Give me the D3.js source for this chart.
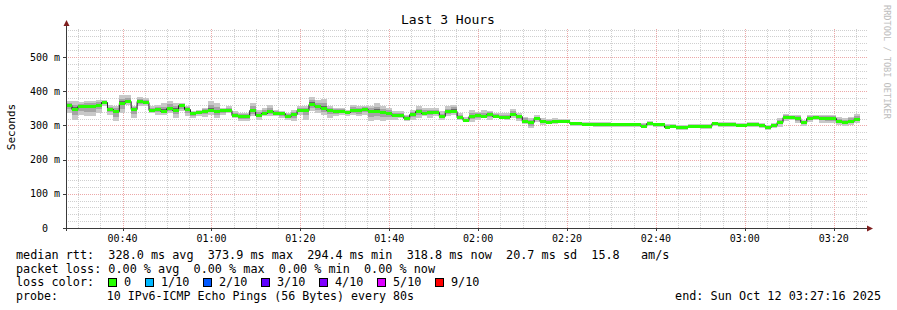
<!DOCTYPE html>
<html><head><meta charset="utf-8">
<script src="https://cdn.jsdelivr.net/npm/d3@7"></script>
<style>
body{margin:0;background:#fff;}
svg{display:block;font-family:"DejaVu Sans Mono",monospace;}
text{white-space:pre;}
</style></head><body>
<svg id="c" width="897" height="310"></svg>
<script>
const title = "Last 3 Hours";
const yAxisTitle = "Seconds";
const watermark = "RRDTOOL / TOBI OETIKER";
const endLabel = "end: Sun Oct 12 03:27:16 2025";
const endTime = 12436;      // 03:27:16 in seconds after midnight
const spanSeconds = 10800;  // 3 hours
const stepSeconds = 80;

// median rtt per 80 s step (ms)
const median = [
360,348,356,356,356,360,368,348,343,365,372,349,370,368,346,348,343,351,346,359,349,336,339,343,346,341,344,346,331,327,327,344,331,336,
341,336,336,327,333,346,346,363,356,351,344,343,343,338,344,344,348,343,343,339,336,331,331,322,333,341,336,338,338,327,341,343,325,315,
328,330,327,333,328,326,326,333,327,314,309,321,312,310,312,312,312,306,306,305,305,305,305,305,304,304,304,303,303,299,306,303,303,296,
298,295,295,297,297,298,298,306,304,304,304,300,300,305,305,300,295,302,311,326,324,322,309,322,326,323,322,322,313,310,314,319
];
// smoke extent (highest / lowest ping) per step (ms)
const smokeHi = [
372,370,368,372,372,375,375,361,356,388,388,356,382,380,356,361,365,370,365,365,356,341,346,351,370,365,351,356,341,336,336,365,346,351,
361,346,341,336,346,356,356,382,375,377,356,351,351,346,361,356,356,356,365,356,351,341,341,331,346,356,351,351,351,341,356,361,336,324,
345,340,345,343,337,335,335,347,335,326,321,330,321,318,321,319,319,311,311,311,311,309,309,309,308,308,308,308,308,306,313,308,308,304,
304,301,301,304,304,304,304,311,311,311,311,306,306,311,311,306,301,308,321,333,330,330,316,330,330,330,330,330,326,321,326,333
];
const smokeLo = [
336,317,330,327,327,336,356,331,312,336,361,322,356,356,336,331,331,336,322,341,327,322,327,324,331,322,331,336,322,312,312,327,317,327,
327,327,322,317,312,331,317,341,336,331,322,327,331,327,331,327,331,312,317,312,317,317,322,312,317,322,327,322,327,317,327,331,317,309,
311,316,321,316,321,318,316,321,314,304,291,311,301,304,304,306,306,298,298,298,298,296,296,296,294,294,294,294,294,291,298,296,296,289,
291,287,287,291,291,289,289,298,294,294,294,294,294,296,296,291,287,291,296,314,316,306,298,311,316,308,308,306,301,298,301,306
];

const yTickValues = [0, 100, 200, 300, 400, 500];
const yTickLabels = ["0  ", "100 m", "200 m", "300 m", "400 m", "500 m"];
const xTickLabels = ["00:40","01:00","01:20","01:40","02:00","02:20","02:40","03:00","03:20"];

const rttStats = ["328.0", "373.9", "294.4", "318.8", "20.7", "15.8"];
const lossStats = ["0.00", "0.00", "0.00", "0.00"];
const lossLabels = ["0", "1/10", "2/10", "3/10", "4/10", "5/10", "9/10"];
const lossColors = ["#26ff00", "#00b8ff", "#0059ff", "#5e00ff", "#7e00ff", "#dd00ff", "#ff0000"];
const probeText = "10 IPv6-ICMP Echo Pings (56 Bytes) every 80s";

const svg = d3.select("#c");
svg.append("rect").attr("width", 897).attr("height", 310).attr("fill", "#fff");

const X0 = 66, X1 = 866, Y0 = 228, Y1 = 28;
const startTime = endTime - spanSeconds;
const x = d3.scaleLinear().domain([startTime, endTime]).range([X0, X1]);
const y = d3.scaleLinear().domain([0, 584.8]).range([Y0, Y1]);

// grid
const grid = svg.append("g");
const minorY = d3.range(20, 585, 20).filter(v => v % 100 !== 0);
const majorY = yTickValues.filter(v => v > 0);
grid.selectAll(".hy").data(minorY).join("line")
  .attr("x1", X0).attr("x2", X1 + 2)
  .attr("y1", d => Math.round(y(d)) + 0.5).attr("y2", d => Math.round(y(d)) + 0.5)
  .attr("stroke", "#cfcfcf").attr("stroke-dasharray", "1,1");
const firstMinor = Math.ceil(startTime / 300) * 300;
const minorX = d3.range(firstMinor, endTime, 300).filter(t => t % 1200 !== 0);
const parseHM = s => { const [h, m] = s.split(":").map(Number); return h * 3600 + m * 60; };
const majorX = xTickLabels.map(parseHM);
grid.selectAll(".vx").data(minorX).join("line")
  .attr("x1", d => Math.round(x(d)) + 0.5).attr("x2", d => Math.round(x(d)) + 0.5)
  .attr("y1", Y0).attr("y2", Y1)
  .attr("stroke", "#cfcfcf").attr("stroke-dasharray", "1,1");
grid.selectAll(".my").data(majorY).join("line")
  .attr("x1", X0).attr("x2", X1 + 2)
  .attr("y1", d => Math.round(y(d)) + 0.5).attr("y2", d => Math.round(y(d)) + 0.5)
  .attr("stroke", "#eca8a8").attr("stroke-dasharray", "1,1");
grid.selectAll(".mx").data(majorX).join("line")
  .attr("x1", d => Math.round(x(d)) + 0.5).attr("x2", d => Math.round(x(d)) + 0.5)
  .attr("y1", Y0).attr("y2", Y1)
  .attr("stroke", "#eca8a8").attr("stroke-dasharray", "1,1");

// smoke
const steps = median.map((m, i) => ({
  t0: startTime + i * stepSeconds, t1: startTime + (i + 1) * stepSeconds,
  med: m, hi: smokeHi[i], lo: smokeLo[i]
}));
const smoke = svg.append("g");
function band(fill, loF, hiF) {
  smoke.append("g").selectAll("rect").data(steps).join("rect")
    .attr("x", d => x(d.t0)).attr("width", d => x(d.t1) - x(d.t0))
    .attr("y", d => y(hiF(d))).attr("height", d => Math.max(0, y(loF(d)) - y(hiF(d))))
    .attr("fill", fill).attr("shape-rendering", "crispEdges");
}
band("#c8c8c8", d => d.lo, d => d.hi);
band("#a4a4a4", d => d.med - (d.med - d.lo) * 0.55, d => d.med + (d.hi - d.med) * 0.55);
band("#666666", d => d.med - (d.med - d.lo) * 0.22, d => d.med + (d.hi - d.med) * 0.22);

// median line
const stepPts = steps.map(d => [d.t0, d.med]).concat([[steps[steps.length - 1].t1, steps[steps.length - 1].med]]);
svg.append("path")
  .attr("d", d3.line().x(d => x(d[0])).y(d => Math.round(y(d[1])) + 0.5).curve(d3.curveStepAfter)(stepPts))
  .attr("fill", "none").attr("stroke", "#202020").attr("stroke-width", 1);
svg.append("g").selectAll("rect").data(steps).join("rect")
  .attr("x", d => x(d.t0)).attr("width", d => x(d.t1) - x(d.t0))
  .attr("y", d => Math.round(y(d.med)) - 1).attr("height", 3)
  .attr("fill", lossColors[0]).attr("shape-rendering", "crispEdges");

// axes
const axisColor = "#3a3a3a";
const ax = svg.append("g");
ax.append("line").attr("x1", X0 + 0.5).attr("x2", X0 + 0.5).attr("y1", Y0 + 3).attr("y2", 23).attr("stroke", axisColor);
ax.append("line").attr("x1", X0 - 3).attr("x2", 868).attr("y1", Y0 + 0.5).attr("y2", Y0 + 0.5).attr("stroke", axisColor);
ax.append("path").attr("d", `M${X0 - 2.5},26 L${X0 + 3.5},26 L${X0 + 0.5},20 Z`).attr("fill", "#7f1f1f");
ax.append("path").attr("d", `M867,${Y0 - 2.5} L867,${Y0 + 3.5} L873,${Y0 + 0.5} Z`).attr("fill", "#7f1f1f");
// ticks
ax.selectAll(".yt").data(yTickValues).join("line")
  .attr("x1", X0 - 3).attr("x2", X0).attr("y1", d => Math.round(y(d)) + 0.5).attr("y2", d => Math.round(y(d)) + 0.5)
  .attr("stroke", axisColor);
ax.selectAll(".xt").data(majorX).join("line")
  .attr("x1", d => Math.round(x(d)) + 0.5).attr("x2", d => Math.round(x(d)) + 0.5).attr("y1", Y0).attr("y2", Y0 + 3)
  .attr("stroke", axisColor);

// axis labels
svg.append("g").selectAll("text").data(yTickValues).join("text")
  .attr("x", 60).attr("y", d => y(d) + 3.5).attr("text-anchor", "end")
  .attr("font-size", 10).attr("fill", "#000").text((d, i) => yTickLabels[i]);
svg.append("g").selectAll("text").data(majorX).join("text")
  .attr("x", d => x(d)).attr("y", Y0 + 14).attr("text-anchor", "middle")
  .attr("font-size", 10).attr("fill", "#000").text((d, i) => xTickLabels[i]);

// titles
svg.append("text").attr("x", 448).attr("y", 24).attr("text-anchor", "middle")
  .attr("font-size", 13).attr("fill", "#000").text(title);
svg.append("text").attr("transform", "translate(15,127) rotate(-90)").attr("text-anchor", "middle")
  .attr("font-size", 11).attr("fill", "#000").text(yAxisTitle);
svg.append("text").attr("transform", "translate(884,5) rotate(90)").attr("text-anchor", "start")
  .attr("font-size", 8.6).attr("fill", "#bdbdbd").text(watermark);

// legend
const LX = 16, FS = 11.8;
const lg = svg.append("g").attr("font-size", FS).attr("fill", "#000");
lg.append("text").attr("x", LX).attr("y", 259)
  .text(`median rtt:  ${rttStats[0]} ms avg  ${rttStats[1]} ms max  ${rttStats[2]} ms min  ${rttStats[3]} ms now  ${rttStats[4]} ms sd  ${rttStats[5]}   am/s`);
lg.append("text").attr("x", LX).attr("y", 272.5)
  .text(`packet loss: ${lossStats[0]} % avg  ${lossStats[1]} % max  ${lossStats[2]} % min  ${lossStats[3]} % now`);
lg.append("text").attr("x", LX).attr("y", 286).text("loss color:");
let bx = 108;
lossLabels.forEach((lab, i) => {
  lg.append("rect").attr("x", bx + 0.5).attr("y", 278.5).attr("width", 8).attr("height", 8)
    .attr("fill", lossColors[i]).attr("stroke", "#000").attr("stroke-width", 1);
  lg.append("text").attr("x", bx + 16).attr("y", 286).text(lab);
  bx += 15 + lab.length * 7 + 15;
});
lg.append("text").attr("x", LX).attr("y", 300).attr("font-size", 11.6).text("probe:       " + probeText);
lg.append("text").attr("x", 881).attr("y", 300).attr("text-anchor", "end").text(endLabel);
</script></body></html>
